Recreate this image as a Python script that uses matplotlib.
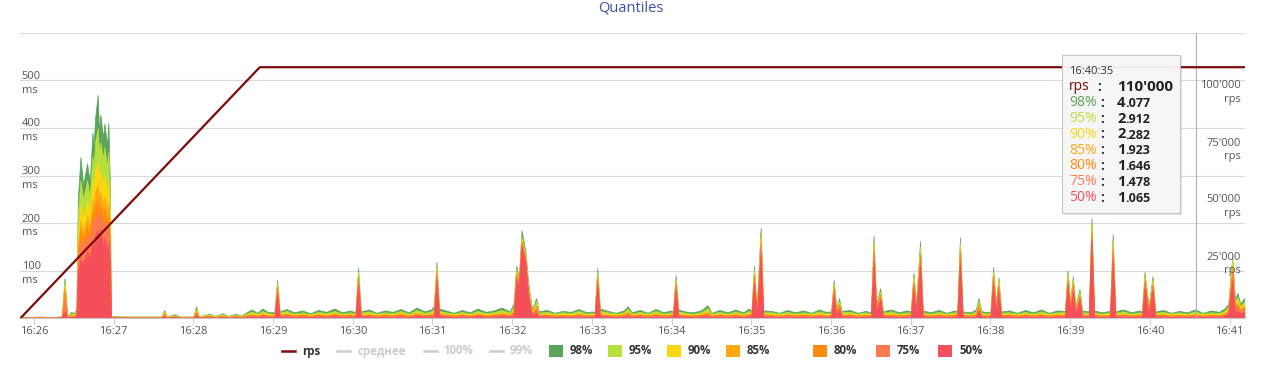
import matplotlib
matplotlib.use('Agg')
import matplotlib.pyplot as plt
import matplotlib.dates as mdates
from matplotlib.patches import Rectangle
from matplotlib.lines import Line2D
import pandas as pd

plt.rcParams['font.family'] = ['Open Sans', 'DejaVu Sans']

W, H = 1261, 385

# --- data -------------------------------------------------------------
day = '2016-05-20 '
# sample times, seconds after 16:26:00
times = [
    -11, 5, 15, 21, 23, 25, 28, 30, 32,
    33, 35, 37, 40, 42, 44, 45, 46, 48, 49, 50, 52, 53, 55, 56, 57, 58,
    70, 96, 98, 100, 106, 110, 120, 122, 124, 132, 136, 142, 146, 152, 156,
    160, 164, 168, 172, 176, 181, 183, 185,
    190, 196, 202, 208, 214, 220, 226, 232, 238, 242, 244, 246,
    252, 258, 264, 270, 276, 282, 288, 294, 299, 301, 303, 305,
    310, 316, 322, 328, 334, 340, 346, 352, 358, 361, 363, 365, 367, 370, 372, 375, 378, 380,
    386, 392, 398, 404, 410, 416, 420, 422, 424, 426,
    432, 438, 444, 447, 450, 456, 462, 468, 474, 479, 481, 483, 485,
    490, 496, 502, 507, 510, 516, 522, 528, 534, 538, 540, 542, 544, 547, 549,
    555, 561, 567, 573, 579, 585, 591, 596, 600, 602, 604, 606, 608,
    614, 620, 626, 630, 632, 634, 637, 639,
    645, 651, 657, 660, 662, 664, 667, 669,
    675, 681, 687, 693, 695, 697, 699, 705, 709, 711, 713, 717,
    720, 722, 724, 726, 728, 734, 740, 746, 752, 758, 764, 770, 776, 778, 780, 782, 784, 787, 789,
    794, 796, 798, 804, 810, 812, 814, 820, 826, 832, 834, 836, 839, 842, 844,
    850, 856, 862, 868, 874, 880, 886, 892, 896, 899, 902, 904, 906, 908, 911,
]

p98 = [
    2, 3, 2, 4, 84, 4, 13, 10, 20,
    250, 339, 280, 326, 286, 390, 364, 421, 470, 392, 428, 379, 410, 364, 412, 300, 4,
    3, 3, 17, 3, 8, 3, 3, 25, 3, 9, 4, 10, 4, 9, 5,
    12, 18, 11, 20, 13, 12, 80, 14,
    19, 12, 16, 10, 17, 13, 20, 12, 16, 12, 105, 14,
    18, 11, 16, 13, 19, 12, 22, 14, 18, 25, 118, 20,
    16, 11, 17, 12, 20, 13, 16, 22, 14, 30, 110, 85, 185, 140, 74, 18, 42, 14,
    17, 11, 15, 13, 19, 12, 14, 12, 105, 20,
    15, 11, 16, 25, 12, 17, 11, 19, 12, 16, 14, 90, 18,
    14, 12, 16, 27, 11, 17, 12, 18, 12, 20, 14, 110, 20, 190, 16,
    15, 11, 17, 12, 16, 11, 18, 13, 14, 80, 20, 42, 15,
    17, 11, 15, 12, 173, 30, 63, 14,
    18, 12, 16, 14, 95, 30, 162, 16,
    12, 17, 11, 16, 14, 170, 14, 12, 18, 42, 15, 12,
    14, 107, 30, 86, 14, 16, 11, 17, 12, 18, 11, 16, 15, 100, 35, 88, 25, 61, 16,
    14, 210, 16, 12, 15, 177, 14, 18, 12, 16, 13, 97, 25, 88, 14,
    17, 11, 15, 12, 18, 11, 16, 13, 20, 30, 130, 40, 53, 30, 42,
]

p95 = [
    2, 2, 2, 3, 76, 3, 10, 8, 16,
    215, 290, 250, 290, 255, 340, 320, 370, 400, 345, 370, 335, 360, 320, 350, 255, 3,
    3, 3, 14, 3, 6, 3, 3, 20, 3, 7, 3, 8, 3, 7, 4,
    9, 14, 9, 15, 10, 9, 74, 11,
    15, 9, 12, 8, 13, 10, 15, 9, 12, 9, 97, 11,
    14, 9, 12, 10, 15, 9, 17, 11, 14, 19, 110, 15,
    12, 9, 13, 9, 15, 10, 12, 17, 11, 24, 102, 80, 172, 132, 66, 14, 36, 11,
    13, 9, 12, 10, 15, 9, 11, 9, 97, 15,
    12, 9, 12, 20, 9, 13, 9, 15, 9, 12, 11, 84, 14,
    11, 9, 12, 21, 9, 13, 9, 14, 9, 15, 11, 102, 16, 177, 12,
    12, 9, 13, 9, 12, 9, 14, 10, 11, 74, 15, 36, 12,
    13, 9, 12, 9, 161, 26, 56, 11,
    14, 9, 12, 11, 88, 26, 150, 12,
    9, 13, 9, 12, 11, 158, 11, 9, 14, 36, 12, 9,
    11, 99, 26, 80, 11, 12, 9, 13, 9, 14, 9, 12, 12, 93, 30, 82, 21, 55, 12,
    11, 200, 12, 9, 12, 165, 11, 14, 9, 12, 10, 90, 21, 82, 11,
    13, 9, 12, 9, 14, 9, 12, 10, 15, 24, 125, 34, 45, 25, 35,
]

p90 = [
    1, 2, 1, 3, 70, 3, 8, 6, 13,
    175, 240, 210, 250, 220, 290, 270, 310, 330, 290, 310, 280, 300, 265, 290, 215, 3,
    2, 2, 12, 2, 5, 2, 2, 17, 2, 6, 3, 6, 3, 6, 3,
    7, 10, 7, 11, 8, 7, 70, 8,
    11, 7, 9, 6, 10, 8, 11, 7, 9, 7, 92, 8,
    10, 7, 9, 8, 11, 7, 12, 8, 10, 14, 104, 11,
    9, 7, 10, 7, 11, 8, 9, 12, 8, 18, 97, 77, 166, 128, 62, 10, 30, 8,
    10, 7, 9, 8, 11, 7, 8, 7, 92, 11,
    9, 7, 9, 15, 7, 10, 7, 11, 7, 9, 8, 79, 10,
    8, 7, 9, 15, 7, 10, 7, 10, 7, 11, 8, 97, 12, 168, 9,
    9, 7, 10, 7, 9, 7, 10, 8, 8, 70, 11, 32, 9,
    10, 7, 9, 7, 153, 23, 52, 8,
    10, 7, 9, 8, 84, 23, 143, 9,
    7, 10, 7, 9, 8, 150, 8, 7, 10, 32, 9, 7,
    8, 94, 23, 76, 8, 9, 7, 10, 7, 10, 7, 9, 9, 88, 27, 78, 18, 51, 9,
    8, 192, 9, 7, 9, 156, 8, 10, 7, 9, 8, 85, 18, 78, 8,
    10, 7, 9, 7, 10, 7, 9, 8, 11, 20, 120, 30, 38, 22, 30,
]

p85 = [
    1, 1, 1, 2, 64, 2, 6, 5, 11,
    150, 205, 180, 215, 190, 250, 235, 265, 280, 250, 265, 240, 255, 225, 245, 185, 2,
    2, 2, 10, 2, 4, 2, 2, 15, 2, 5, 2, 5, 2, 5, 3,
    6, 8, 5, 9, 6, 6, 67, 7,
    9, 6, 8, 5, 8, 6, 9, 6, 8, 6, 88, 7,
    8, 5, 8, 6, 9, 6, 10, 7, 8, 11, 99, 9,
    8, 6, 8, 6, 9, 6, 8, 10, 7, 15, 94, 75, 162, 125, 58, 8, 26, 7,
    8, 5, 7, 6, 9, 6, 7, 6, 88, 9,
    7, 5, 8, 12, 6, 8, 5, 9, 6, 8, 7, 76, 8,
    7, 6, 8, 12, 5, 8, 6, 8, 6, 9, 7, 93, 10, 162, 8,
    7, 5, 8, 6, 8, 5, 8, 6, 7, 67, 9, 30, 7,
    8, 5, 7, 6, 147, 21, 50, 7,
    8, 6, 8, 7, 80, 21, 137, 8,
    6, 8, 5, 8, 7, 144, 7, 6, 8, 28, 7, 6,
    7, 90, 21, 72, 7, 8, 5, 8, 6, 8, 5, 8, 7, 84, 25, 74, 16, 49, 8,
    7, 186, 8, 6, 7, 150, 7, 8, 6, 8, 6, 82, 16, 74, 7,
    8, 5, 7, 6, 8, 5, 8, 6, 9, 17, 110, 26, 32, 19, 25,
]

p80 = [
    1, 1, 1, 2, 58, 2, 5, 4, 9,
    135, 185, 165, 195, 175, 225, 210, 240, 250, 225, 240, 215, 230, 200, 220, 170, 2,
    2, 2, 8, 2, 3, 2, 2, 13, 2, 4, 2, 4, 2, 4, 2,
    5, 7, 5, 8, 5, 5, 64, 6,
    8, 5, 7, 4, 7, 5, 8, 5, 7, 5, 84, 6,
    7, 5, 7, 5, 8, 5, 9, 6, 7, 10, 94, 8,
    7, 5, 7, 5, 8, 5, 7, 9, 6, 13, 91, 73, 160, 122, 55, 7, 23, 6,
    7, 5, 6, 5, 8, 5, 6, 5, 84, 8,
    6, 5, 7, 11, 5, 7, 5, 8, 5, 7, 6, 72, 7,
    6, 5, 7, 10, 5, 7, 5, 7, 5, 8, 6, 89, 9, 157, 7,
    6, 5, 7, 5, 7, 5, 7, 5, 6, 64, 8, 28, 6,
    7, 5, 6, 5, 142, 20, 48, 6,
    7, 5, 7, 6, 76, 20, 132, 7,
    5, 7, 5, 7, 6, 139, 6, 5, 7, 25, 6, 5,
    6, 86, 20, 69, 6, 7, 5, 7, 5, 7, 5, 7, 6, 80, 24, 70, 15, 47, 7,
    6, 181, 7, 5, 6, 145, 6, 7, 5, 7, 5, 78, 15, 70, 6,
    7, 5, 6, 5, 7, 5, 7, 5, 8, 15, 102, 24, 28, 17, 22,
]

p75 = [
    1, 1, 1, 2, 40, 2, 4, 3, 8,
    120, 165, 150, 175, 160, 205, 190, 215, 225, 200, 215, 195, 205, 180, 200, 150, 2,
    1, 1, 6, 1, 3, 1, 1, 10, 1, 3, 2, 3, 2, 3, 2,
    4, 6, 4, 7, 4, 4, 60, 5,
    6, 4, 5, 4, 6, 4, 7, 4, 5, 4, 80, 5,
    6, 4, 5, 4, 6, 4, 7, 5, 6, 8, 90, 7,
    5, 4, 6, 4, 7, 4, 5, 7, 5, 11, 88, 72, 158, 120, 52, 6, 20, 5,
    6, 4, 5, 4, 6, 4, 5, 4, 80, 7,
    5, 4, 5, 9, 4, 6, 4, 6, 4, 5, 5, 68, 6,
    5, 4, 5, 9, 4, 6, 4, 6, 4, 7, 5, 85, 8, 152, 6,
    5, 4, 6, 4, 5, 4, 6, 4, 5, 60, 7, 26, 5,
    6, 4, 5, 4, 137, 18, 45, 5,
    6, 4, 5, 5, 72, 18, 128, 6,
    4, 6, 4, 5, 5, 134, 5, 4, 6, 22, 5, 4,
    5, 82, 18, 65, 5, 5, 4, 6, 4, 6, 4, 5, 5, 76, 22, 67, 13, 44, 6,
    5, 176, 6, 4, 5, 140, 5, 6, 4, 5, 4, 74, 13, 67, 5,
    6, 4, 5, 4, 6, 4, 5, 4, 7, 13, 95, 20, 24, 15, 19,
]

p50 = [
    1, 1, 1, 1, 14, 1, 3, 2, 6,
    95, 125, 115, 140, 125, 160, 150, 175, 185, 160, 190, 150, 170, 140, 160, 120, 1,
    1, 1, 3, 1, 2, 1, 1, 6, 1, 2, 1, 2, 1, 2, 1,
    2, 3, 2, 4, 2, 2, 50, 3,
    3, 2, 3, 2, 3, 2, 4, 2, 3, 2, 68, 3,
    3, 2, 3, 2, 3, 2, 4, 3, 3, 4, 76, 4,
    3, 2, 3, 2, 4, 2, 3, 4, 3, 6, 80, 70, 152, 115, 45, 3, 12, 3,
    3, 2, 3, 2, 3, 2, 3, 2, 68, 4,
    3, 2, 3, 4, 2, 3, 2, 3, 2, 3, 3, 58, 3,
    3, 2, 3, 4, 2, 3, 2, 3, 2, 4, 3, 74, 4, 135, 3,
    3, 2, 3, 2, 3, 2, 3, 2, 3, 50, 4, 20, 3,
    3, 2, 3, 2, 118, 12, 38, 3,
    3, 2, 3, 3, 62, 12, 110, 3,
    2, 3, 2, 3, 3, 115, 3, 2, 3, 15, 3, 2,
    3, 70, 12, 56, 3, 3, 2, 3, 2, 3, 2, 3, 3, 66, 15, 58, 8, 38, 3,
    3, 165, 3, 2, 3, 122, 3, 3, 2, 3, 2, 64, 8, 58, 3,
    3, 2, 3, 2, 3, 2, 3, 2, 4, 8, 80, 12, 15, 10, 12,
]

rps_times = ['16:25:50', '16:28:50', '16:41:12']
rps_values = [0, 110000, 110000]

quantile_names = ['98%', '95%', '90%', '85%', '80%', '75%', '50%']
quantile_colors = ['#5aa55a', '#b8e03c', '#fbd60f', '#ffa812', '#ff8c0c', '#ff7a4f', '#f5505a']

hidden_names = ['среднее', '100%', '99%']

ms_ticks = [0, 100, 200, 300, 400, 500, 600]
rps_ticks = [25000, 50000, 75000, 100000]

tooltip_time = '16:40:35'
tooltip_rps = 110000
tooltip_vals = [4.077, 2.912, 2.282, 1.923, 1.646, 1.478, 1.065]

# --- figure -----------------------------------------------------------
t0 = pd.Timestamp(day + '16:26:00')
x = t0 + pd.to_timedelta(times, unit='s')
rx = pd.to_datetime([day + t for t in rps_times])


def fx(px):
    return px / W


def fy(py):
    return 1 - py / H


fig = plt.figure(figsize=(W / 100, H / 100), dpi=100)
ax = fig.add_axes([fx(20), fy(318), 1225 / W, 285 / H])

series = [p98, p95, p90, p85, p80, p75, p50]
for vals, col in zip(series, quantile_colors):
    assert len(vals) == len(times)
    ax.fill_between(x, vals, 0, facecolor=col, edgecolor=col, linewidth=0.5, zorder=1)

ax.set_xlim(t0 - pd.Timedelta(seconds=10.5), t0 + pd.Timedelta(seconds=911.6))
ax.set_ylim(0, 600)

ax.set_yticks(ms_ticks)
ax.set_yticklabels(['' if v in (0, 600) else '%d\nms' % v for v in ms_ticks])
ax.yaxis.grid(True, color='#d9d9d9', linewidth=0.8)
ax.set_axisbelow(True)
ax.tick_params(axis='y', length=0, pad=-1.2, labelsize=8, labelcolor='#555555')
for lbl in ax.get_yticklabels():
    lbl.set_horizontalalignment('left')
    lbl.set_linespacing(1.35)

ax.xaxis.set_major_locator(mdates.MinuteLocator())
ax.xaxis.set_major_formatter(mdates.DateFormatter('%H:%M'))
ax.tick_params(axis='x', length=5, width=0.8, color='#c8d3e0', labelsize=8,
               labelcolor='#555555', pad=0.8)
for s in ['top', 'left', 'right']:
    ax.spines[s].set_visible(False)
ax.spines['bottom'].set_color('#c8c8c8')
ax.spines['bottom'].set_linewidth(0.8)

# crosshair
ax.axvline(pd.Timestamp(day + tooltip_time), color='#b0b0b0', linewidth=0.8, zorder=2)

# rps axis
ax2 = ax.twinx()
ax2.set_ylim(0, 125000)
ax2.plot(rx, rps_values, color='#7f0a0a', linewidth=1.6)
ax2.set_yticks(rps_ticks)
ax2.set_yticklabels(["{:,}".format(v).replace(',', "'") + '\nrps' for v in rps_ticks])
ax2.tick_params(axis='y', length=0, pad=-3, labelsize=8, labelcolor='#555555')
for lbl in ax2.get_yticklabels():
    lbl.set_horizontalalignment('right')
    lbl.set_multialignment('right')
    lbl.set_linespacing(1.35)
for s in ax2.spines.values():
    s.set_visible(False)

# title
fig.text(0.5, fy(8), 'Quantiles', ha='center', va='center', fontsize=10.5, color='#3a53a6')

# legend
ly = 351
lines = [('rps', 282, 295, 302, '#7f0a0a', '#333333')]
for name, x0, tx in zip(hidden_names, [337, 424, 490], [358, 443, 510]):
    lines.append((name, x0, x0 + 13, tx, '#cccccc', '#cccccc'))
for name, x0, x1, tx, c, tc in lines:
    fig.add_artist(Line2D([fx(x0), fx(x1)], [fy(ly), fy(ly)], transform=fig.transFigure,
                          color=c, linewidth=1.8))
    fig.text(fx(tx), fy(ly), name, ha='left', va='center', fontsize=8.3,
             fontweight='bold', color=tc)
box_x = [549, 608, 667, 726, 813, 876, 938]
for name, c, x0 in zip(quantile_names, quantile_colors, box_x):
    fig.add_artist(Rectangle((fx(x0), fy(ly + 6)), 14 / W, 12 / H, transform=fig.transFigure,
                             facecolor=c, edgecolor='none'))
    fig.text(fx(x0 + 21), fy(ly), name, ha='left', va='center', fontsize=8.3,
             fontweight='bold', color='#333333')

# tooltip
fig.add_artist(Rectangle((fx(1064), fy(215)), 118 / W, 158 / H, transform=fig.transFigure,
                         facecolor='#000000', alpha=0.10, edgecolor='none', zorder=4))
fig.add_artist(Rectangle((fx(1062), fy(213)), 118 / W, 158 / H, transform=fig.transFigure,
                         facecolor='#f8f8f8', alpha=0.95, edgecolor='#c4c4c4',
                         linewidth=0.8, zorder=5))
fig.text(fx(1069), fy(71), tooltip_time, ha='left', va='center', fontsize=8,
         color='#333333', zorder=6)
renderer = fig.canvas.get_renderer()
rows = [('rps', '#7f0a0a', "{:,}".format(tooltip_rps).replace(',', "'"), '')]
for name, c, v in zip(quantile_names, quantile_colors, tooltip_vals):
    s = '%.3f' % v
    rows.append((name, c, s.split('.')[0], '.' + s.split('.')[1]))
for i, (name, c, whole, frac) in enumerate(rows):
    y = 87 + i * 15.8
    fig.text(fx(1069), fy(y), name, ha='left', va='center', fontsize=10, color=c, zorder=6)
    fig.text(fx(1097 if name == 'rps' else 1100), fy(y), ':', ha='left', va='center',
             fontsize=10, color='#333333', fontweight='bold', zorder=6)
    t1 = fig.text(fx(1117), fy(y), whole, ha='left', va='center',
                  fontsize=11 if name == 'rps' else 10.5, fontweight='bold',
                  color='#222222', zorder=6)
    if frac:
        bb = t1.get_window_extent(renderer)
        fig.text(bb.x1 / W, fy(y + 0.8), frac, ha='left', va='center', fontsize=9,
                 fontweight='bold', color='#222222', zorder=6)

fig.savefig('out.png', dpi=100)
